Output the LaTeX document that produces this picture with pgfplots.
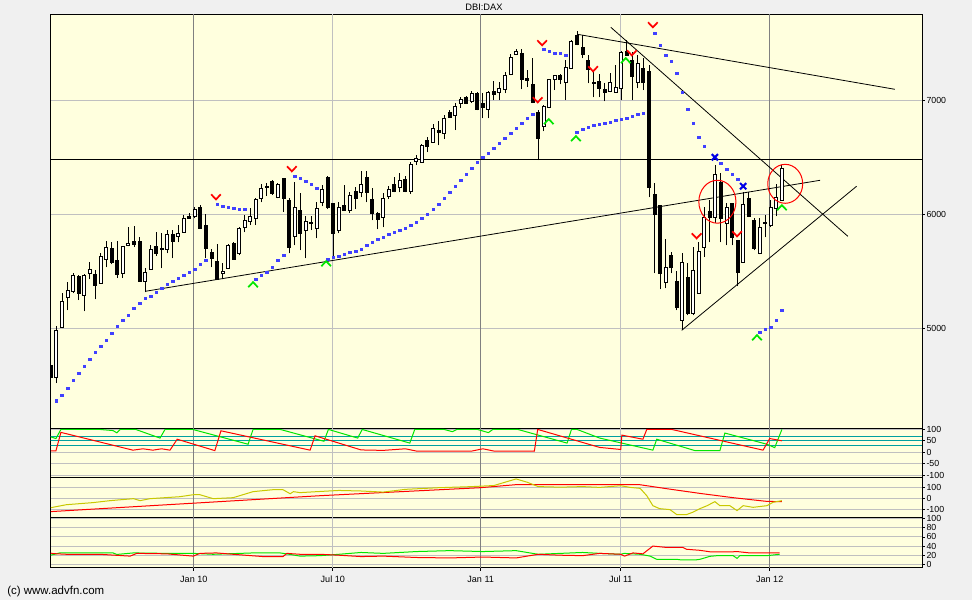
\documentclass[border=0pt]{standalone}
\usepackage{fontspec}
\setmainfont{Liberation Sans}
\usepackage{pgfplots}
\pgfplotsset{compat=1.18}
\usepackage{pgfplotstable}
\definecolor{bgc}{RGB}{240,240,240}
\definecolor{cream}{RGB}{255,255,222}
\definecolor{gridA}{RGB}{192,192,192}
\definecolor{gridB}{RGB}{128,128,128}
\definecolor{tealc}{RGB}{0,160,160}
\definecolor{grn}{RGB}{0,230,0}
\definecolor{rd}{RGB}{255,0,0}
\definecolor{yel}{RGB}{200,200,0}
\definecolor{sarblue}{RGB}{64,64,255}
\definecolor{xblue}{RGB}{0,0,230}

\pgfdeclareplotmark{vdown}{\pgfpathmoveto{\pgfqpoint{-3.6pt}{2.2pt}}\pgfpathlineto{\pgfqpoint{0pt}{-1.6pt}}\pgfpathlineto{\pgfqpoint{3.6pt}{2.2pt}}\pgfusepathqstroke}
\pgfdeclareplotmark{vup}{\pgfpathmoveto{\pgfqpoint{-3.6pt}{-2.2pt}}\pgfpathlineto{\pgfqpoint{0pt}{1.6pt}}\pgfpathlineto{\pgfqpoint{3.6pt}{-2.2pt}}\pgfusepathqstroke}

\pgfplotstableread{
i O H L C
0 4675 4700 4550 4570
1 4570 5018 4518 4982
2 5009 5307 5000 5237
3 5272 5404 5158 5333
4 5325 5482 5307 5465
5 5456 5470 5246 5307
6 5289 5474 5149 5465
7 5482 5579 5430 5518
8 5474 5509 5254 5377
9 5395 5658 5395 5632
10 5605 5763 5535 5711
11 5702 5754 5561 5579
12 5596 5763 5439 5474
13 5482 5719 5439 5719
14 5728 5886 5719 5746
15 5763 5895 5711 5737
16 5763 5798 5412 5412
17 5412 5526 5316 5491
18 5518 5728 5518 5693
19 5719 5842 5632 5658
20 5693 5833 5526 5702
21 5693 5860 5658 5825
22 5825 5860 5614 5763
23 5807 5904 5754 5833
24 5842 5991 5842 5965
25 5982 6009 5960 5965
26 5982 6061 5965 6044
27 6061 6079 5877 5877
28 5904 6000 5614 5702
29 5667 5693 5535 5614
30 5588 5737 5430 5430
31 5482 5570 5430 5500
32 5526 5737 5526 5728
33 5746 5754 5605 5605
34 5658 5886 5640 5877
35 5886 5991 5842 5947
36 5939 6053 5904 5982
37 5965 6140 5904 6132
38 6140 6263 6105 6228
39 6237 6272 6158 6245
40 6289 6298 6167 6184
41 6149 6272 6140 6263
42 6316 6316 6018 6140
43 6123 6140 5658 5711
44 5807 6281 5728 6061
45 6035 6184 5684 5833
46 5860 5982 5614 5939
47 5930 5982 5860 5921
48 5877 6105 5789 6053
49 6105 6254 6070 6219
50 6325 6333 6044 6061
51 6096 6096 5614 5833
52 5860 6105 5833 6061
53 6079 6254 6035 6035
54 6035 6193 6009 6167
55 6202 6237 6044 6140
56 6193 6377 6149 6263
57 6325 6377 6105 6193
58 6132 6228 5947 6009
59 6009 6018 5868 5956
60 5974 6184 5886 6140
61 6158 6246 6132 6219
62 6263 6325 6193 6202
63 6237 6360 6193 6298
64 6307 6333 6193 6202
65 6202 6460 6180 6440
66 6465 6518 6430 6491
67 6456 6614 6456 6605
68 6649 6675 6544 6596
69 6632 6789 6632 6754
70 6737 6816 6605 6720
71 6711 6868 6658 6842
72 6895 6912 6851 6851
73 6868 6974 6737 6947
74 6974 7026 6930 7009
75 7026 7035 6965 6974
76 6991 7079 6974 7061
77 7061 7070 6912 6921
78 6974 7061 6842 6939
79 6921 7079 6842 7070
80 7079 7167 7000 7053
81 7070 7158 7000 7105
82 7096 7246 7061 7219
83 7228 7404 7219 7377
84 7404 7447 7395 7430
85 7412 7447 7096 7184
86 7193 7263 7114 7175
87 7140 7368 6974 6982
88 6895 6912 6474 6667
89 6772 6956 6728 6947
90 6939 7184 6939 7184
91 7184 7219 7088 7219
92 7219 7228 7140 7184
93 7158 7351 7000 7289
94 7281 7526 7281 7518
95 7570 7605 7482 7491
96 7465 7570 7368 7404
97 7351 7395 7149 7272
98 7158 7246 7026 7149
99 7167 7228 7026 7105
100 7096 7149 6991 7070
101 7079 7237 7070 7158
102 7070 7307 7070 7114
103 7105 7430 7000 7421
104 7430 7526 7386 7395
105 7351 7421 7000 7211
106 7158 7395 7105 7325
107 7281 7368 7088 7158
108 7254 7307 6149 6237
109 6175 6272 5482 6000
110 6079 6079 5342 5482
111 5404 5781 5351 5535
112 5640 5667 5482 5535
113 5412 5500 5158 5184
114 5070 5658 4982 5579
115 5447 5570 5114 5132
116 5132 5711 5114 5509
117 5307 5754 5307 5675
118 5711 6061 5623 5974
119 6026 6123 5754 5974
120 5974 6430 5921 6351
121 6281 6360 5754 5965
122 5921 6096 5728 6061
123 6096 6096 5728 5798
124 5772 5772 5368 5491
125 5579 6193 5579 6088
126 6140 6193 5974 5982
127 5947 5965 5684 5702
128 5658 5965 5649 5886
129 5921 5991 5798 5930
130 5904 6123 5886 6061
131 6053 6263 5982 6149
132 6123 6430 6123 6404
}\candles

\pgfplotstableread{
w v
1 4362
2 4412
3 4474
4 4544
5 4605
6 4667
7 4728
8 4789
9 4842
10 4895
11 4956
12 5018
13 5070
14 5114
15 5175
16 5219
17 5263
18 5281
19 5316
20 5351
21 5386
22 5412
23 5439
24 5465
25 5491
26 5518
27 5561
28 5596
30 6088
31 6070
32 6061
33 6053
34 6044
35 6044
37 5430
38 5465
39 5491
40 5535
41 5596
42 5640
44 6333
45 6316
46 6289
47 6263
48 6228
50 5605
51 5623
52 5632
53 5649
54 5667
55 5675
56 5693
57 5728
58 5754
59 5781
60 5798
61 5825
62 5842
63 5860
64 5877
65 5904
66 5930
67 5965
68 6000
69 6044
70 6088
71 6140
72 6193
73 6246
74 6298
75 6351
76 6404
77 6456
78 6500
79 6535
80 6579
81 6623
82 6667
83 6711
84 6754
85 6798
86 6842
87 6877
89 7447
90 7430
91 7412
92 7412
93 7395
95 6719
96 6746
97 6763
98 6781
99 6789
100 6798
101 6807
102 6825
103 6833
104 6842
105 6860
106 6877
107 6886
109 7588
110 7482
111 7395
112 7342
113 7237
114 7070
115 6921
116 6798
117 6675
118 6596
121 6447
122 6395
123 6351
124 6307
128 4965
129 4991
130 5009
131 5070
132 5158
}\sar

\pgfplotsset{
  panel/.style={
    scale only axis, width=653.5pt,
    xmin=-0.05, xmax=157.3,
    axis background/.style={fill=cream},
    axis line style={black, line width=0.75pt},
    tick style={black, line width=0.5pt},
    major tick length=2.2pt,
    tick align=outside,
    ytick pos=right, yticklabel pos=right,
    ymajorgrids, major grid style={gridA, line width=0.75pt},
    xtick=\empty,
    ticklabel style={font=\fontsize{6.6}{7}\selectfont, inner sep=1pt},
    /pgf/number format/assume math mode=true,
    /pgf/number format/1000 sep={},
  },
  vgrid/.style={forget plot, line width=0.75pt},
  candle/.style={forget plot, draw=none, no marks,
    error bars/.cd, y dir=plus, y explicit, error mark=none},
}
\newcommand{\vgrids}{%
  \addplot[vgrid, gridB] coordinates {(25.8,-10000)(25.8,10000)};
  \addplot[vgrid, gridA] coordinates {(50.9,-10000)(50.9,10000)};
  \addplot[vgrid, gridB] coordinates {(77.6,-10000)(77.6,10000)};
  \addplot[vgrid, gridA] coordinates {(102.9,-10000)(102.9,10000)};
  \addplot[vgrid, gridB] coordinates {(129.8,-10000)(129.8,10000)};
}

\begin{document}
\begin{tikzpicture}
\fill[bgc] (0,0) rectangle (729pt,450pt);
\node[font=\fontsize{7}{8}\selectfont] at (363pt,444.5pt) {DBI:DAX};
\node[font=\fontsize{8.6}{10}\selectfont, anchor=west] at (2pt,6.5pt) {(c) www.advfn.com};

% ---------------- main price panel
\begin{axis}[panel, at={(38pt,129pt)}, anchor=south west, height=310.5pt,
  ymin=4123, ymax=7754, ytick={5000,6000,7000}]
\vgrids
% trend lines
\addplot[black, line width=0.6pt, forget plot] coordinates {(-0.2,6482.5)(157.5,6482.5)};
\addplot[black, line width=0.6pt, forget plot] coordinates {(17.0,5324)(138.9,6298)};
\addplot[black, line width=0.6pt, forget plot] coordinates {(95.0,7579)(152.4,7096)};
\addplot[black, line width=0.6pt, forget plot] coordinates {(101.1,7640)(143.9,5807)};
\addplot[black, line width=0.6pt, forget plot] coordinates {(113.9,4982)(145.5,6246)};
% SAR dots
\addplot[only marks, mark=square*, mark size=0.95pt, sarblue, mark options={draw=none, fill=sarblue}] table[x=w, y=v] {\sar};
% candles: wicks
\addplot[candle, error bar style={draw=black, line width=0.75pt}]
  table[x=i, y=L, y error expr=\thisrow{H}-\thisrow{L}] {\candles};
% candles: bodies (outline / black fill)
\addplot[candle, error bar style={draw=black, line width=3pt}]
  table[x=i, y expr={min(\thisrow{O},\thisrow{C})-4.4}, y error expr={abs(\thisrow{C}-\thisrow{O})+8.8}] {\candles};
% white interiors of rising candles
\addplot[candle, error bar style={draw=white, line width=1.5pt}]
  table[x=i, y expr={\thisrow{C}>\thisrow{O}+9 ? \thisrow{O}+4.4 : -20000}, y error expr={\thisrow{C}>\thisrow{O}+9 ? \thisrow{C}-\thisrow{O}-8.8 : 1}] {\candles};
% signals
\addplot[only marks, mark=vdown, rd, line width=1.3pt] coordinates {(29.8,6149)(43.5,6395)(87.9,7000)(88.7,7500)(97.9,7272)(104.9,7412)(108.7,7658)(116.6,5807)(123.9,5825)};
\addplot[only marks, mark=vup, grn, line width=1.3pt] coordinates {(36.5,5386)(49.7,5570)(89.9,6816)(94.8,6667)(103.8,7351)(127.5,4921)(132.0,6061)};
\addplot[only marks, mark=x, mark size=3.3pt, xblue, line width=1.5pt] coordinates {(119.9,6500)(125.0,6246)};
\draw[rd, line width=0.75pt] (axis cs:120.35,6110) ellipse [x radius=13.9pt, y radius=16.1pt];
\draw[rd, line width=0.75pt] (axis cs:132.6,6267) ellipse [x radius=13.1pt, y radius=14.6pt];
\end{axis}

% ---------------- Aroon panel
\begin{axis}[panel, at={(38pt,92.25pt)}, anchor=south west, height=36.75pt,
  ymin=-110, ymax=105, ytick={-100,-50,0,50,100}]
\vgrids
\addplot[tealc, line width=0.75pt, forget plot] coordinates {(-1,70)(157.3,70)};
\addplot[tealc, line width=0.75pt, forget plot] coordinates {(-1,50)(157.3,50)};
\addplot[tealc, line width=0.75pt, forget plot] coordinates {(-1,30)(157.3,30)};
\addplot[grn, line width=0.75pt] coordinates {(0,67)(0.9,60)(1.8,100)(8.8,100)(11.2,95)(11.9,85)(12.5,100)(15.3,100)(19.7,62)(20.6,100)(25.6,100)(35.6,35)(36.5,100)(41.4,100)(49.3,48)(50.1,100)(55.4,62)(56.2,100)(64.8,40)(65.7,100)(71,100)(72.5,90)(73.3,100)(77,100)(79,86)(79.8,100)(84.3,100)(93.2,40)(94,100)(95,100)(99.1,62)(108.7,9)(109.4,57)(116.3,7)(120.8,7)(121.7,84)(129.3,35)(130.7,20)(132,100)};
\addplot[rd, line width=0.75pt] coordinates {(0,6)(0.9,6)(1.8,87)(14.8,9)(16.6,15)(18.4,9)(20,15)(21.5,9)(22.8,57)(29.6,7)(30.7,94)(46.8,9)(47.7,72)(56,10)(60,8)(64,15)(66,5)(76,5)(78,15)(80,5)(87.3,5)(87.9,100)(99.1,21)(102.9,12)(103.1,75)(106.9,57)(107.6,100)(112.1,100)(128.6,9)(129.8,60)(131.6,52)(132,50)};
\end{axis}

% ---------------- CCI-like panel
\begin{axis}[panel, at={(38pt,62.25pt)}, anchor=south west, height=30pt,
  ymin=-170, ymax=195, ytick={-100,0,100}]
\vgrids
\addplot[rd, line width=0.75pt] coordinates {(0,-118)(48.6,27)(77.5,100)(83.8,127)(106.4,127)(111.2,91)(117.2,48)(123.2,9)(129.3,-25)(132,-27)};
\addplot[yel, line width=0.75pt] coordinates {(0,-82)(2.8,-55)(7.6,-36)(10.7,-18)(14.9,0)(16.1,-18)(17.9,0)(23.3,18)(25.7,36)(26.9,36)(29.3,0)(32.9,9)(36.5,64)(40.1,82)(41.9,82)(43.2,45)(43.8,64)(45,55)(48,64)(52,75)(56,70)(60,60)(64,85)(70,100)(76,110)(80,120)(84,180)(86,150)(88,110)(92,105)(96,110)(99.1,103)(102.9,118)(104.6,103)(106.4,94)(107.6,27)(108.7,-64)(109.9,-91)(111.8,-100)(113,-145)(114.8,-145)(115.9,-124)(117.2,-91)(118.5,-64)(119.9,-27)(120.8,-64)(122.6,-64)(123.9,-109)(125,-64)(126.8,-79)(129.3,-64)(130.4,-33)(132,-18)};
\end{axis}

% ---------------- DMI panel
\begin{axis}[panel, at={(38pt,24.2pt)}, anchor=south west, height=38pt,
  ymin=-8, ymax=103, ytick={0,20,40,60,80,100},
  xtick={25.8,50.9,77.6,102.9,129.8}, xtick pos=bottom,
  xticklabels={Jan 10,Jul 10,Jan 11,Jul 11,Jan 12},
  xticklabel style={font=\fontsize{6.8}{8}\selectfont, yshift=-2.5pt}]
\vgrids
\addplot[grn, line width=0.75pt] coordinates {(-0.2,19.6)(1.6,25)(11.2,25)(11.9,21.7)(14.9,25)(20.9,24)(25.7,24)(29.3,22)(36.5,25)(41.4,25)(43.2,21.7)(45,18)(48.6,19)(52,22)(56,26)(60,24)(66,28)(72,30)(78,28)(84,30)(88,22)(92,24)(96,26)(99.1,24)(102.9,22)(103.5,24)(106.4,22)(108.2,18)(109.4,11)(113,11)(113.6,10)(116.6,10)(117.2,11)(119,17.5)(120.3,19)(123.2,19)(123.9,13)(124.4,19)(129.3,19)(131.6,22)};
\addplot[rd, line width=0.75pt] coordinates {(-0.2,25)(0.4,23.5)(2.8,22)(8.8,22)(14.3,18)(15.5,24)(20.9,23)(25.7,18)(26.9,24)(29.9,25)(32.9,22)(38.3,17)(41.9,17)(42.6,24)(45,22)(48.6,22)(52,20)(56,17)(60,18)(66,15)(72,14)(78,16)(84,14)(88,22)(92,20)(96,19)(99.1,24)(102.9,22)(103.6,18)(105.1,25)(106.9,23)(108.7,40)(111.2,37)(114.1,37)(114.8,33)(117.2,30.7)(119,27.5)(123.2,27.5)(123.9,28)(126.2,25)(131.6,25)};
\end{axis}
\end{tikzpicture}
\end{document}
